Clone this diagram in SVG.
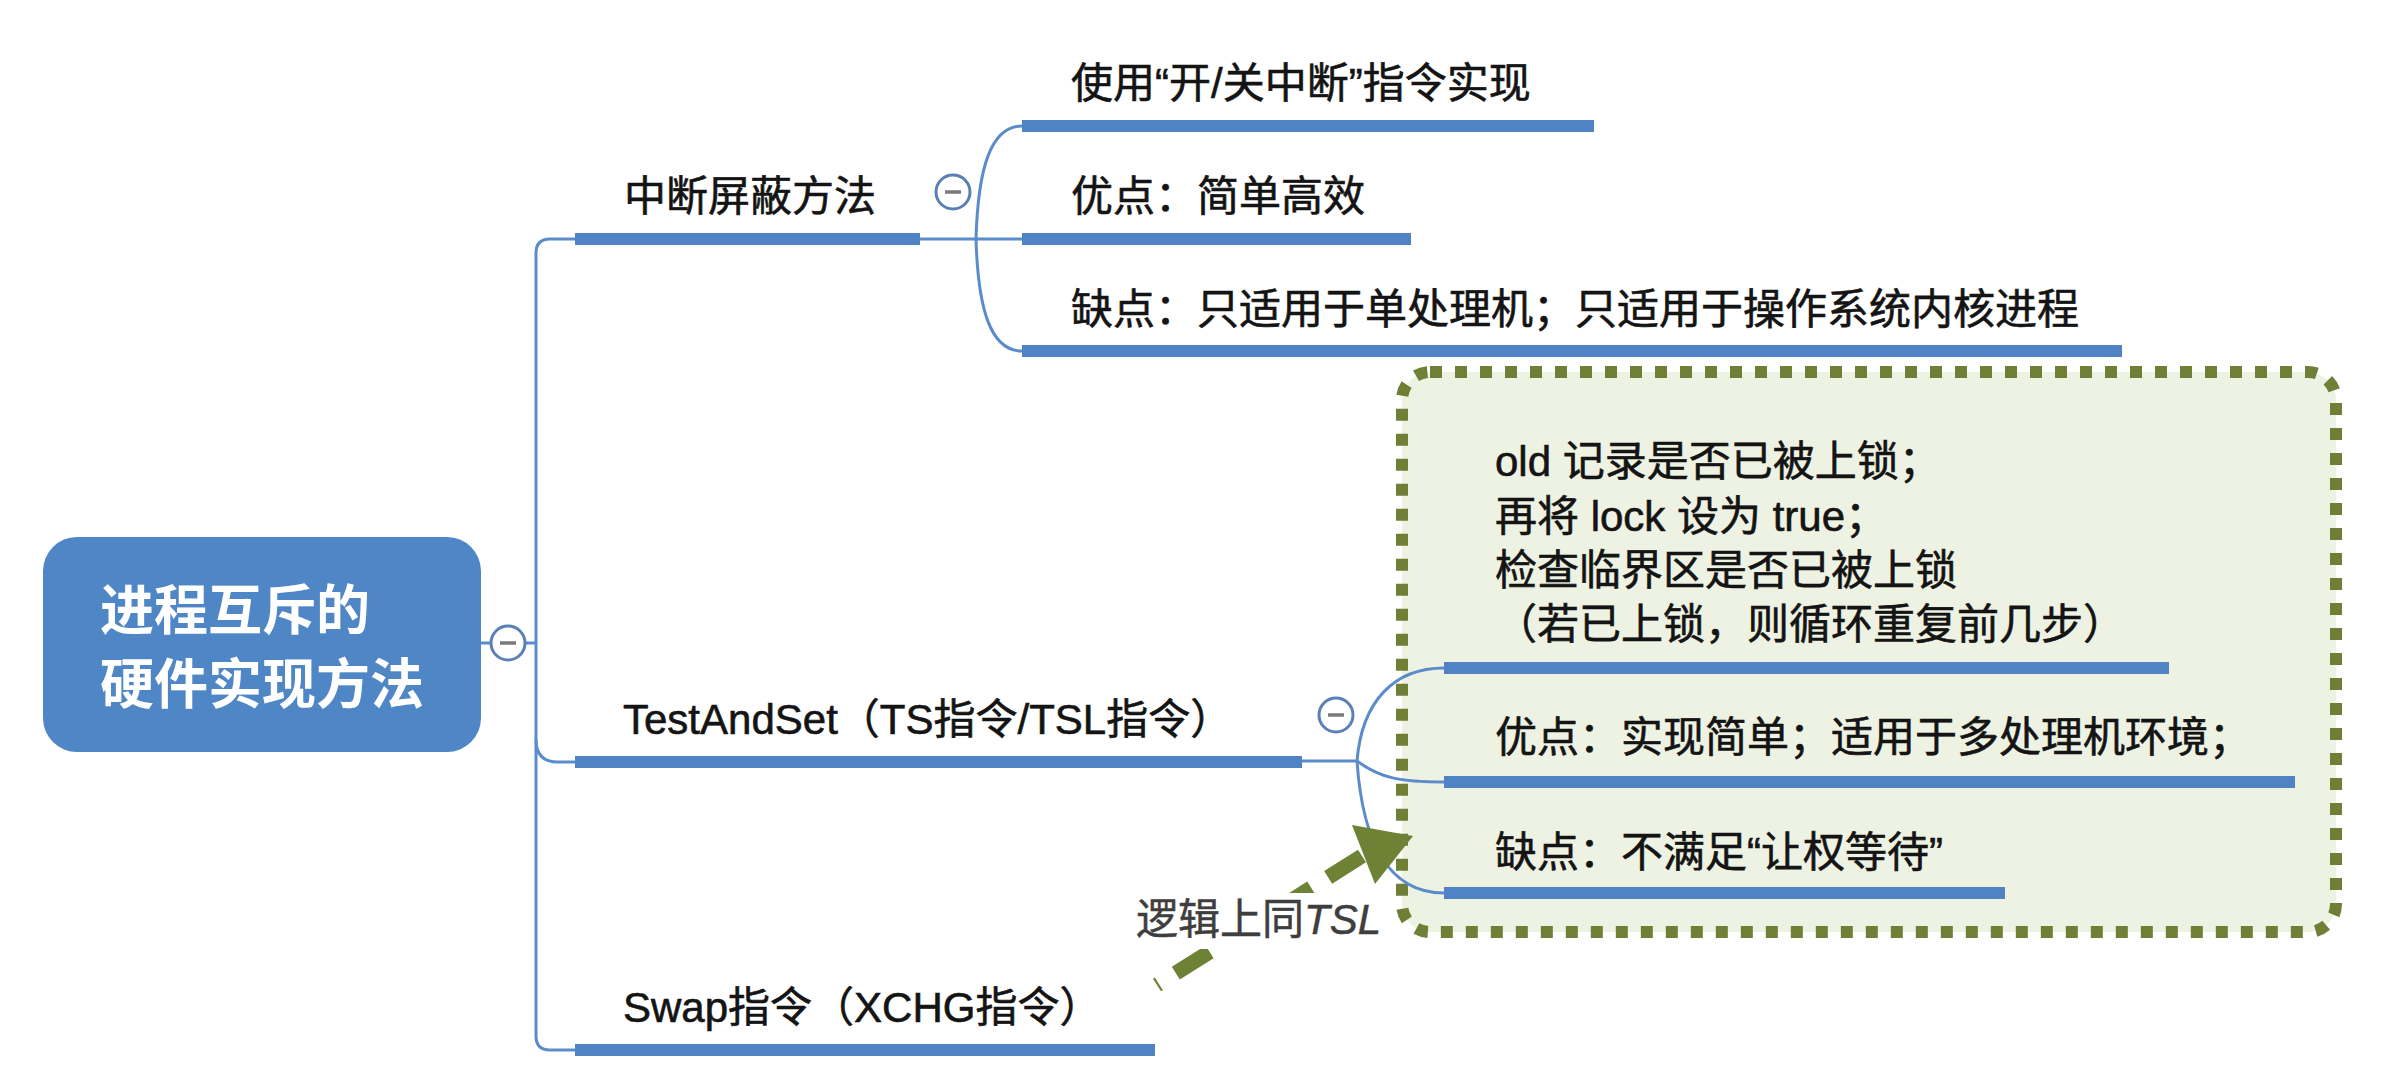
<svg xmlns="http://www.w3.org/2000/svg" width="2387" height="1091" viewBox="0 0 2387 1091">
<style>
.t{font-family:"Liberation Sans","Noto Sans CJK SC",sans-serif;font-size:42px;fill:#141414;stroke:#141414;stroke-width:0.6}
.root{font-family:"Noto Sans CJK SC","Liberation Sans",sans-serif;font-size:54px;font-weight:bold;fill:#ffffff}
.ul{stroke:#5083c4;stroke-width:12;fill:none}
.thin{stroke:#5a8bcb;stroke-width:3;fill:none}
.col{fill:#ffffff;stroke:#5b80b6;stroke-width:3}
.minus{stroke:#7a7a7a;stroke-width:3.5}
.lbl{font-family:"Liberation Sans","Noto Sans CJK SC",sans-serif;font-size:42px;fill:#3e3e3e;stroke:#3e3e3e;stroke-width:0.5}
</style>
<rect width="2387" height="1091" fill="#ffffff"/>
<g id="note-box">
<rect x="1402" y="372" width="934" height="560" rx="28" fill="#eef2e3" stroke="#6f7f35" stroke-width="12" stroke-dasharray="12 13"/>
</g>
<g id="connectors">
<path class="thin" d="M481,643 H490 M526,643 H536"/>
<path class="thin" d="M575,239 H550 Q536,239 536,253 V1036 Q536,1050 550,1050 H575"/>
<path class="thin" d="M536,740 Q536,762 558,762 H575"/>
<path class="thin" d="M920,239 H1022"/>
<path class="thin" d="M976,239 C978,170 990,126 1022,126"/>
<path class="thin" d="M976,239 C978,308 990,351 1022,351"/>
<path class="thin" d="M1302,761 H1357"/>
<path class="thin" d="M1357,761 C1362,700 1395,668 1444,668"/>
<path class="thin" d="M1357,761 C1380,778 1400,782 1444,782"/>
<path class="thin" d="M1357,761 C1362,835 1385,893 1444,893"/>
</g>
<g id="root">
<rect x="43" y="537" width="438" height="215" rx="34" fill="#4f86c6"/>
<text class="root" x="100" y="630">进程互斥的</text>
<text class="root" x="100" y="704">硬件实现方法</text>
<circle class="col" cx="508" cy="643" r="17"/>
<line class="minus" x1="500" y1="643" x2="516" y2="643"/>
</g>
<g id="n-zdpb">
<line class="ul" x1="575" y1="239" x2="920" y2="239"/>
<text class="t" x="624" y="211">中断屏蔽方法</text>
<circle class="col" cx="953" cy="192" r="17"/>
<line class="minus" x1="945" y1="192" x2="961" y2="192"/>
</g>
<g id="n-zdpb-1">
<line class="ul" x1="1022" y1="126" x2="1594" y2="126"/>
<text class="t" x="1071" y="98">使用“开/关中断”指令实现</text>
</g>
<g id="n-zdpb-2">
<line class="ul" x1="1022" y1="239" x2="1411" y2="239"/>
<text class="t" x="1071" y="211">优点：简单高效</text>
</g>
<g id="n-zdpb-3">
<line class="ul" x1="1022" y1="351" x2="2122" y2="351"/>
<text class="t" x="1071" y="324">缺点：只适用于单处理机；只适用于操作系统内核进程</text>
</g>
<g id="n-ts">
<line class="ul" x1="575" y1="762" x2="1302" y2="762"/>
<text class="t" x="623" y="734">TestAndSet（TS指令/TSL指令）</text>
<circle class="col" cx="1336" cy="715" r="17"/>
<line class="minus" x1="1328" y1="715" x2="1344" y2="715"/>
</g>
<g id="n-ts-1">
<line class="ul" x1="1444" y1="668" x2="2169" y2="668"/>
<text class="t" x="1495" y="476">old 记录是否已被上锁；</text>
<text class="t" x="1495" y="531">再将 lock 设为 true；</text>
<text class="t" x="1495" y="585">检查临界区是否已被上锁</text>
<text class="t" x="1495" y="639">（若已上锁，则循环重复前几步）</text>
</g>
<g id="n-ts-2">
<line class="ul" x1="1444" y1="782" x2="2295" y2="782"/>
<text class="t" x="1495" y="752">优点：实现简单；适用于多处理机环境；</text>
</g>
<g id="n-ts-3">
<line class="ul" x1="1444" y1="893" x2="2005" y2="893"/>
<text class="t" x="1495" y="867">缺点：不满足“让权等待”</text>
</g>
<g id="n-swap">
<line class="ul" x1="575" y1="1050" x2="1155" y2="1050"/>
<text class="t" x="623" y="1022">Swap指令（XCHG指令）</text>
</g>
<g id="arrow">
<path d="M1362,856 L1157,985" stroke="#6e8236" stroke-width="15" stroke-dasharray="40 20" fill="none"/>
<polygon points="1352,825 1413,836 1375,884" fill="#6e8236"/>
<rect x="1128" y="893" width="256" height="56" fill="#ffffff"/>
<text class="lbl" x="1136" y="934">逻辑上同<tspan font-style="italic">TSL</tspan></text>
</g>
</svg>
